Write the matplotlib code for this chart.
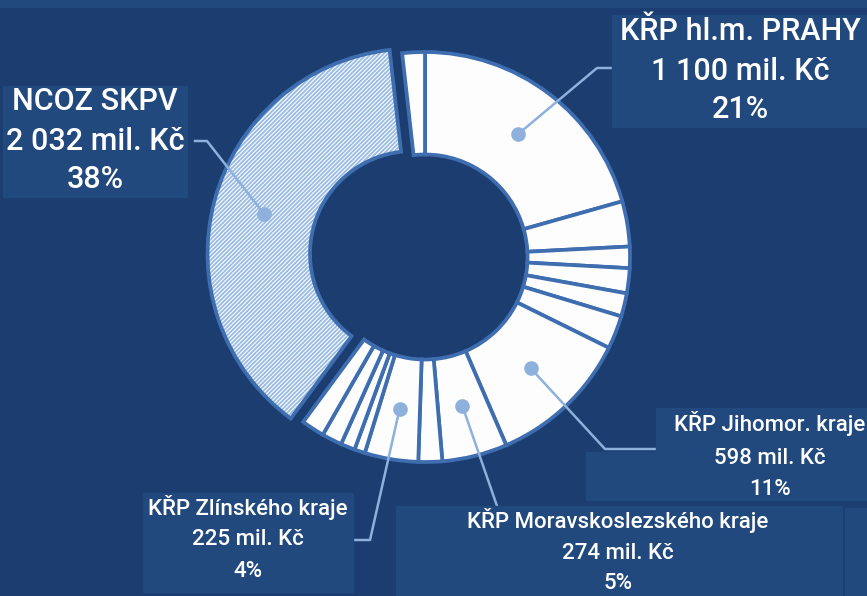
import numpy as np
import matplotlib.pyplot as plt
from matplotlib.patches import Wedge, Rectangle

# slices clockwise from 12 o'clock, mil. Kc (unlabelled ones)
names = ["KŘP hl.m. PRAHY", "", "", "", "", "", "KŘP Jihomor. kraje",
         "KŘP Moravskoslezského kraje", "", "KŘP Zlínského kraje",
         "", "", "", "", "NCOZ SKPV", ""]
values = [1100, 190, 90, 105, 98, 140, 598, 274, 100, 225, 45, 60, 85, 97, 2032, 95]
hatched = "NCOZ SKPV"

W, H = 867, 596
CX, CY, R = 425, 257, 205   # donut centre and radius in image pixels

BG = "#1b3d6f"
BOX = "#22497e"
EDGE = "#3e6db0"
HATCH = "#98bbe4"
LEAD = "#8db0dc"

plt.rcParams["font.family"] = ["Roboto", "DejaVu Sans"]
plt.rcParams["hatch.linewidth"] = 1.3


def to(x, y):
  # image pixel -> data units (radius 1)
  return (x - CX) / R, (CY - y) / R


fig = plt.figure(figsize=(W / 100, H / 100), dpi=100, facecolor=BG)
ax = fig.add_axes([0, 0, 1, 1])
ax.set_facecolor(BG)

explode = [0.063 if n == hatched else 0 for n in names]
wedges, _ = ax.pie(values, radius=1, startangle=90, counterclock=False,
                   explode=explode, colors=["#fdfdfd"] * len(values),
                   wedgeprops=dict(width=0.5, edgecolor=EDGE, linewidth=2.7))

k = names.index(hatched)
w = wedges[k]
w.set_edgecolor(HATCH)
w.set_linewidth(0)
w.set_hatch("////////")
ax.add_patch(Wedge(w.center, w.r, w.theta1, w.theta2, width=w.width,
                   fill=False, edgecolor=EDGE, linewidth=2.7, zorder=3))

ax.set_xlim(-CX / R, (W - CX) / R)
ax.set_ylim(-(H - CY) / R, CY / R)
ax.axis("off")

# label boxes (image px: x0, y0, x1, y1)
boxes = [(612, 15, 867, 127), (3, 86, 187, 197), (656, 408, 867, 452),
         (586, 452, 867, 500), (396, 506, 842, 596), (845, 508, 867, 596),
         (143, 493, 353, 592), (0, 0, 867, 7)]
for x0, y0, x1, y1 in boxes:
  fig.patches.append(Rectangle((x0 / W, 1 - y1 / H), (x1 - x0) / W, (y1 - y0) / H,
                               transform=fig.transFigure, color=BOX, zorder=0))

total = sum(values)

# label layout: text centre x, baselines, font size, leader elbow points
layout = {
  "KŘP hl.m. PRAHY": (740, [40, 80, 118], 22, [(597, 68), (627, 68)]),
  "NCOZ SKPV": (95, [110, 150, 188], 22, [(207, 141), (195, 141)]),
  "KŘP Jihomor. kraje": (770, [431, 464, 495], 16, [(605, 449), (688, 449)]),
  "KŘP Moravskoslezského kraje": (618, [528, 559, 589], 16, [(497, 506)]),
  "KŘP Zlínského kraje": (248, [515, 545, 577], 16, [(370, 540), (333, 540)]),
}

for name, (tx, ys, fs, elbow) in layout.items():
  i = names.index(name)
  v = values[i]
  wd = wedges[i]
  th = np.deg2rad((wd.theta1 + wd.theta2) / 2)
  dx = wd.center[0] + 0.75 * np.cos(th)
  dy = wd.center[1] + 0.75 * np.sin(th)
  pts = [(dx, dy)] + [to(*p) for p in elbow]
  ax.plot([p[0] for p in pts], [p[1] for p in pts], color=LEAD, lw=1.8, zorder=4)
  ax.plot(dx, dy, "o", color=LEAD, markersize=9.5, zorder=5)

  lines = [name, "%s mil. Kč" % format(v, ",").replace(",", " "),
           "%d%%" % round(100 * v / total)]
  for s, yb in zip(lines, ys):
    fig.text(tx / W, 1 - yb / H, s, ha="center", va="baseline",
             fontsize=fs, fontweight="medium", color="white", zorder=6)

fig.savefig("out.png", dpi=100, facecolor=BG)
